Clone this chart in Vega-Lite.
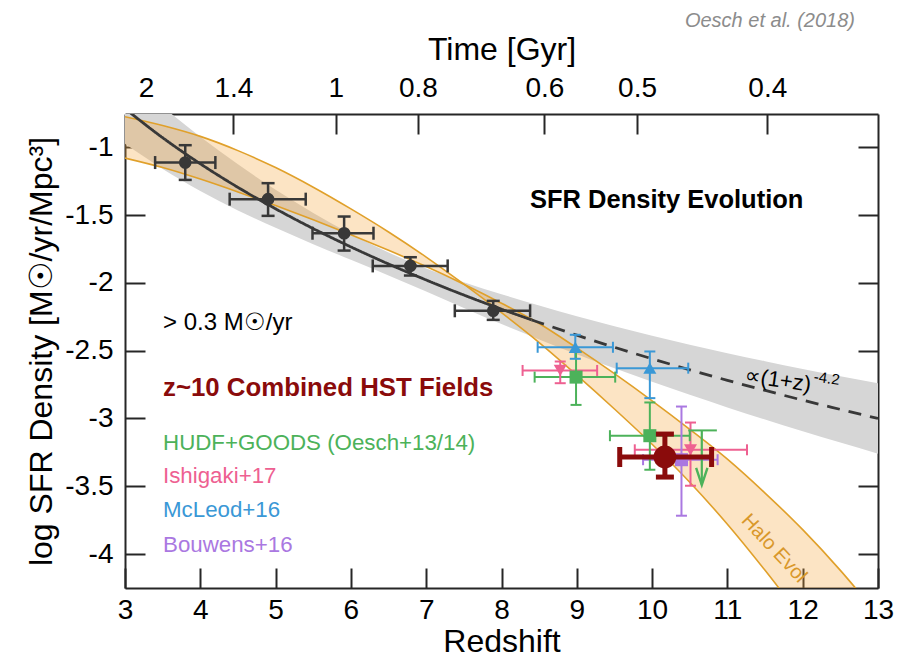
{
  "$schema": "https://vega.github.io/schema/vega-lite/v6.json",
  "width": 753,
  "height": 474,
  "autosize": {"type": "none"},
  "padding": {"left": 125, "top": 114, "right": 29, "bottom": 71},
  "background": "white",
  "title": {"text": "Oesch et al. (2018)", "anchor": "end", "frame": "group", "font": "Liberation Sans", "fontSize": 20, "fontStyle": "italic", "fontWeight": "normal", "color": "#8c8c8c", "dx": -23, "offset": 2},
  "config": {
    "font": "Liberation Sans",
    "view": {"stroke": null},
    "axis": {"domainColor": "#262626", "domainWidth": 2, "tickColor": "#262626", "tickWidth": 2, "tickSize": -20, "ticks": true, "zindex": 1, "labelFont": "Liberation Sans", "labelFontSize": 28, "labelColor": "#000000", "titleFont": "Liberation Sans", "titleFontSize": 32, "titleFontWeight": "normal", "titleColor": "#000000", "grid": false, "labelFlush": false, "labelOverlap": false}
  },
  "datasets": {
    "curves": [
      {"z": 3, "gLo": -0.975, "gHi": -0.455, "A": -0.775, "B": -1.08},
      {"z": 3.5, "gLo": -1.16, "gHi": -0.7, "A": -0.84, "B": -1.15},
      {"z": 4, "gLo": -1.322, "gHi": -0.922, "A": -0.92, "B": -1.235},
      {"z": 4.5, "gLo": -1.466, "gHi": -1.126, "A": -1.025, "B": -1.33},
      {"z": 5, "gLo": -1.594, "gHi": -1.314, "A": -1.15, "B": -1.43},
      {"z": 5.5, "gLo": -1.715, "gHi": -1.485, "A": -1.295, "B": -1.535},
      {"z": 6, "gLo": -1.83, "gHi": -1.64, "A": -1.455, "B": -1.645},
      {"z": 6.5, "gLo": -1.946, "gHi": -1.776, "A": -1.625, "B": -1.76},
      {"z": 7, "gLo": -2.064, "gHi": -1.894, "A": -1.81, "B": -1.88},
      {"z": 7.5, "gLo": -2.185, "gHi": -1.995, "A": -2.01, "B": -2.01},
      {"z": 8, "gLo": -2.304, "gHi": -2.084, "A": -2.22, "B": -2.15},
      {"z": 8.5, "gLo": -2.417, "gHi": -2.167, "A": -2.44, "B": -2.3},
      {"z": 9, "gLo": -2.526, "gHi": -2.246, "A": -2.68, "B": -2.48},
      {"z": 9.5, "gLo": -2.63, "gHi": -2.32, "A": -2.93, "B": -2.67},
      {"z": 10, "gLo": -2.73, "gHi": -2.39, "A": -3.19, "B": -2.87},
      {"z": 10.5, "gLo": -2.826, "gHi": -2.456, "A": -3.47, "B": -3.08},
      {"z": 11, "gLo": -2.919, "gHi": -2.519, "A": -3.78, "B": -3.3},
      {"z": 11.5, "gLo": -3.008, "gHi": -2.578, "A": -4.12, "B": -3.55},
      {"z": 12, "gLo": -3.095, "gHi": -2.635, "A": -4.48, "B": -3.82},
      {"z": 12.5, "gLo": -3.178, "gHi": -2.688, "A": -4.85, "B": -4.12},
      {"z": 13, "gLo": -3.26, "gHi": -2.74, "A": -5.2, "B": -4.45}
    ],
    "fit": [
      {"z": 3, "v": -0.715, "seg": "solid"},
      {"z": 3.5, "v": -0.93, "seg": "solid"},
      {"z": 4, "v": -1.122, "seg": "solid"},
      {"z": 4.5, "v": -1.296, "seg": "solid"},
      {"z": 5, "v": -1.454, "seg": "solid"},
      {"z": 5.5, "v": -1.6, "seg": "solid"},
      {"z": 6, "v": -1.735, "seg": "solid"},
      {"z": 6.5, "v": -1.861, "seg": "solid"},
      {"z": 7, "v": -1.979, "seg": "solid"},
      {"z": 7.5, "v": -2.09, "seg": "solid"},
      {"z": 8, "v": -2.194, "seg": "solid"},
      {"z": 8.4, "v": -2.273, "seg": "solid"},
      {"z": 8.4, "v": -2.273, "seg": "dashed"},
      {"z": 8.5, "v": -2.292, "seg": "dashed"},
      {"z": 9, "v": -2.386, "seg": "dashed"},
      {"z": 9.5, "v": -2.475, "seg": "dashed"},
      {"z": 10, "v": -2.56, "seg": "dashed"},
      {"z": 10.5, "v": -2.641, "seg": "dashed"},
      {"z": 11, "v": -2.719, "seg": "dashed"},
      {"z": 11.5, "v": -2.793, "seg": "dashed"},
      {"z": 12, "v": -2.865, "seg": "dashed"},
      {"z": 12.5, "v": -2.933, "seg": "dashed"},
      {"z": 13, "v": -3.0, "seg": "dashed"}
    ],
    "black": [
      {"z": 3.8, "v": -1.113, "zlo": 3.4, "zhi": 4.2, "vlo": -1.241, "vhi": -0.985},
      {"z": 4.9, "v": -1.383, "zlo": 4.39, "zhi": 5.4, "vlo": -1.506, "vhi": -1.265},
      {"z": 5.91, "v": -1.634, "zlo": 5.49, "zhi": 6.3, "vlo": -1.762, "vhi": -1.511},
      {"z": 6.79, "v": -1.875, "zlo": 6.29, "zhi": 7.285, "vlo": -1.946, "vhi": -1.811},
      {"z": 7.89, "v": -2.206, "zlo": 7.38, "zhi": 8.38, "vlo": -2.273, "vhi": -2.133}
    ],
    "colored": [
      {"series": "McLeod+16", "z": 8.98, "v": -2.475, "zlo": 8.48, "zhi": 9.48, "vlo": -2.56, "vhi": -2.383},
      {"series": "McLeod+16", "z": 9.97, "v": -2.629, "zlo": 9.53, "zhi": 10.48, "vlo": -2.85, "vhi": -2.506},
      {"series": "Ishigaki+17", "z": 8.78, "v": -2.646, "zlo": 8.28, "zhi": 9.27, "vlo": -2.74, "vhi": -2.58},
      {"series": "Ishigaki+17", "z": 10.51, "v": -3.231, "zlo": 9.77, "zhi": 11.26, "vlo": -3.496, "vhi": -3.03},
      {"series": "HUDF+GOODS", "z": 8.99, "v": -2.695, "zlo": 8.44, "zhi": 9.51, "vlo": -2.9, "vhi": -2.51},
      {"series": "HUDF+GOODS", "z": 9.97, "v": -3.127, "zlo": 9.44, "zhi": 10.5, "vlo": -3.378, "vhi": -2.882},
      {"series": "Bouwens+16", "z": 10.39, "v": -3.304, "zlo": 9.88, "zhi": 10.87, "vlo": -3.717, "vhi": -2.912}
    ],
    "limit": [
      {"series": "HUDF+GOODS", "z": 10.66, "v": -3.088, "zlo": 10.48, "zhi": 10.86, "vtip": -3.49}
    ],
    "maroon": [
      {"z": 10.17, "v": -3.284, "zlo": 9.57, "zhi": 10.79, "vlo": -3.432, "vhi": -3.115}
    ]
  },
  "layer": [
    {
      "data": {"name": "curves"},
      "mark": {"type": "area", "color": "#d6d6d6", "opacity": 1, "clip": true, "interpolate": "monotone"},
      "encoding": {
        "x": {"field": "z", "type": "quantitative", "scale": {"domain": [3, 13], "nice": false, "zero": false},
              "axis": {"orient": "bottom", "title": "Redshift", "values": [3, 4, 5, 6, 7, 8, 9, 10, 11, 12, 13], "tickSize": -20, "labelPadding": 28, "titlePadding": 2}},
        "y": {"field": "gHi", "type": "quantitative", "scale": {"domain": [-4.25, -0.755], "nice": false, "zero": false},
              "axis": {"orient": "left", "title": "log SFR Density [M☉/yr/Mpc³]", "values": [-1, -1.5, -2, -2.5, -3, -3.5, -4], "tickSize": -20, "labelExpr": "datum.value + ''", "labelPadding": 32, "titlePadding": 6}},
        "y2": {"field": "gLo"}
      }
    },
    {
      "data": {"name": "curves"},
      "mark": {"type": "area", "color": "#f4a43c", "opacity": 0.3, "clip": true, "interpolate": "monotone"},
      "encoding": {
        "x": {"field": "z", "type": "quantitative", "scale": {"domain": [3, 13], "nice": false, "zero": false},
              "axis": {"orient": "top", "title": "Time [Gyr]", "values": [3.28, 4.44, 5.8, 6.89, 8.57, 9.8, 11.53], "tickSize": -20,
                       "labelExpr": "datum.value == 3.28 ? '2' : datum.value == 4.44 ? '1.4' : datum.value == 5.8 ? '1' : datum.value == 6.89 ? '0.8' : datum.value == 8.57 ? '0.6' : datum.value == 9.8 ? '0.5' : '0.4'",
                       "labelPadding": 32, "titlePadding": 8}},
        "y": {"field": "A", "type": "quantitative", "scale": {"domain": [-4.25, -0.755], "nice": false, "zero": false},
              "axis": {"orient": "right", "title": null, "labels": false, "tickSize": -20, "values": [-1, -1.5, -2, -2.5, -3, -3.5, -4]}},
        "y2": {"field": "B"}
      }
    },
    {
      "data": {"name": "curves"},
      "transform": [{"fold": ["A", "B"], "as": ["curve", "val"]}],
      "mark": {"type": "line", "color": "#e0a02a", "strokeWidth": 1.6, "clip": true, "interpolate": "monotone"},
      "encoding": {
        "x": {"field": "z", "type": "quantitative", "axis": null},
        "y": {"field": "val", "type": "quantitative", "axis": null},
        "detail": {"field": "curve"}
      }
    },
    {
      "data": {"name": "fit"},
      "mark": {"type": "line", "color": "#383838", "strokeWidth": 2.8, "clip": true, "interpolate": "monotone"},
      "encoding": {
        "x": {"field": "z", "type": "quantitative", "axis": null},
        "y": {"field": "v", "type": "quantitative", "axis": null},
        "strokeDash": {"field": "seg", "type": "nominal", "scale": {"domain": ["solid", "dashed"], "range": [[1, 0], [13, 9]]}, "legend": null}
      }
    },
    {
      "data": {"name": "black"},
      "mark": {"type": "rule", "color": "#383838", "strokeWidth": 2.5},
      "encoding": {
        "x": {"field": "zlo", "type": "quantitative", "axis": null},
        "x2": {"field": "zhi"},
        "y": {"field": "v", "type": "quantitative", "axis": null}
      }
    },
    {
      "data": {"name": "black"},
      "mark": {"type": "rule", "color": "#383838", "strokeWidth": 2.5},
      "encoding": {
        "x": {"field": "z", "type": "quantitative", "axis": null},
        "y": {"field": "vlo", "type": "quantitative", "axis": null},
        "y2": {"field": "vhi"}
      }
    },
    {
      "data": {"name": "black"},
      "transform": [{"fold": ["zlo", "zhi"], "as": ["k", "zc"]}],
      "mark": {"type": "tick", "orient": "vertical", "color": "#383838", "size": 13, "thickness": 2.5, "opacity": 1},
      "encoding": {
        "x": {"field": "zc", "type": "quantitative", "axis": null},
        "y": {"field": "v", "type": "quantitative", "axis": null}
      }
    },
    {
      "data": {"name": "black"},
      "transform": [{"fold": ["vlo", "vhi"], "as": ["k", "vc"]}],
      "mark": {"type": "tick", "orient": "horizontal", "color": "#383838", "size": 13, "thickness": 2.5, "opacity": 1},
      "encoding": {
        "x": {"field": "z", "type": "quantitative", "axis": null},
        "y": {"field": "vc", "type": "quantitative", "axis": null}
      }
    },
    {
      "data": {"name": "black"},
      "mark": {"type": "circle", "color": "#383838", "size": 160, "opacity": 1},
      "encoding": {
        "x": {"field": "z", "type": "quantitative", "axis": null},
        "y": {"field": "v", "type": "quantitative", "axis": null}
      }
    },
    {
      "data": {"name": "colored"},
      "mark": {"type": "rule", "strokeWidth": 2},
      "encoding": {
        "x": {"field": "zlo", "type": "quantitative", "axis": null},
        "x2": {"field": "zhi"},
        "y": {"field": "v", "type": "quantitative", "axis": null},
        "color": {"field": "series", "type": "nominal", "scale": {"domain": ["McLeod+16", "Ishigaki+17", "HUDF+GOODS", "Bouwens+16"], "range": ["#3a98d6", "#ee6091", "#4cb25a", "#aa78e1"]}, "legend": null}
      }
    },
    {
      "data": {"name": "colored"},
      "mark": {"type": "rule", "strokeWidth": 2},
      "encoding": {
        "x": {"field": "z", "type": "quantitative", "axis": null},
        "y": {"field": "vlo", "type": "quantitative", "axis": null},
        "y2": {"field": "vhi"},
        "color": {"field": "series", "type": "nominal", "legend": null}
      }
    },
    {
      "data": {"name": "colored"},
      "transform": [{"fold": ["zlo", "zhi"], "as": ["k", "zc"]}],
      "mark": {"type": "tick", "orient": "vertical", "size": 11, "thickness": 2, "opacity": 1},
      "encoding": {
        "x": {"field": "zc", "type": "quantitative", "axis": null},
        "y": {"field": "v", "type": "quantitative", "axis": null},
        "color": {"field": "series", "type": "nominal", "legend": null}
      }
    },
    {
      "data": {"name": "colored"},
      "transform": [{"fold": ["vlo", "vhi"], "as": ["k", "vc"]}],
      "mark": {"type": "tick", "orient": "horizontal", "size": 11, "thickness": 2, "opacity": 1},
      "encoding": {
        "x": {"field": "z", "type": "quantitative", "axis": null},
        "y": {"field": "vc", "type": "quantitative", "axis": null},
        "color": {"field": "series", "type": "nominal", "legend": null}
      }
    },
    {
      "data": {"name": "colored"},
      "mark": {"type": "point", "filled": true, "opacity": 1},
      "encoding": {
        "x": {"field": "z", "type": "quantitative", "axis": null},
        "y": {"field": "v", "type": "quantitative", "axis": null},
        "color": {"field": "series", "type": "nominal", "legend": null},
        "shape": {"field": "series", "type": "nominal", "scale": {"domain": ["McLeod+16", "Ishigaki+17", "HUDF+GOODS", "Bouwens+16"], "range": ["triangle-up", "triangle-down", "square", "square"]}, "legend": null},
        "size": {"field": "series", "type": "ordinal", "scale": {"domain": ["McLeod+16", "Ishigaki+17", "HUDF+GOODS", "Bouwens+16"], "range": [170, 170, 190, 70]}, "legend": null}
      }
    },
    {
      "data": {"name": "limit"},
      "mark": {"type": "rule", "color": "#4cb25a", "strokeWidth": 2},
      "encoding": {
        "x": {"field": "zlo", "type": "quantitative", "axis": null},
        "x2": {"field": "zhi"},
        "y": {"field": "v", "type": "quantitative", "axis": null}
      }
    },
    {
      "data": {"name": "limit"},
      "mark": {"type": "rule", "color": "#4cb25a", "strokeWidth": 2.2},
      "encoding": {
        "x": {"field": "z", "type": "quantitative", "axis": null},
        "y": {"field": "v", "type": "quantitative", "axis": null},
        "y2": {"field": "vtip"}
      }
    },
    {
      "data": {"name": "limit"},
      "mark": {"type": "point", "shape": "M-0.6,-1.8L0,0L0.6,-1.8", "filled": false, "color": "#4cb25a", "strokeWidth": 2.4, "size": 357, "opacity": 1},
      "encoding": {
        "x": {"field": "z", "type": "quantitative", "axis": null},
        "y": {"field": "vtip", "type": "quantitative", "axis": null}
      }
    },
    {
      "data": {"name": "maroon"},
      "mark": {"type": "rule", "color": "#8a0b0b", "strokeWidth": 5},
      "encoding": {
        "x": {"field": "zlo", "type": "quantitative", "axis": null},
        "x2": {"field": "zhi"},
        "y": {"field": "v", "type": "quantitative", "axis": null}
      }
    },
    {
      "data": {"name": "maroon"},
      "mark": {"type": "rule", "color": "#8a0b0b", "strokeWidth": 5},
      "encoding": {
        "x": {"field": "z", "type": "quantitative", "axis": null},
        "y": {"field": "vlo", "type": "quantitative", "axis": null},
        "y2": {"field": "vhi"}
      }
    },
    {
      "data": {"name": "maroon"},
      "transform": [{"fold": ["zlo", "zhi"], "as": ["k", "zc"]}],
      "mark": {"type": "tick", "orient": "vertical", "color": "#8a0b0b", "size": 20, "thickness": 5, "opacity": 1},
      "encoding": {
        "x": {"field": "zc", "type": "quantitative", "axis": null},
        "y": {"field": "v", "type": "quantitative", "axis": null}
      }
    },
    {
      "data": {"name": "maroon"},
      "transform": [{"fold": ["vlo", "vhi"], "as": ["k", "vc"]}],
      "mark": {"type": "tick", "orient": "horizontal", "color": "#8a0b0b", "size": 18, "thickness": 5, "opacity": 1},
      "encoding": {
        "x": {"field": "z", "type": "quantitative", "axis": null},
        "y": {"field": "vc", "type": "quantitative", "axis": null}
      }
    },
    {
      "data": {"name": "maroon"},
      "mark": {"type": "circle", "color": "#8a0b0b", "size": 520, "opacity": 1},
      "encoding": {
        "x": {"field": "z", "type": "quantitative", "axis": null},
        "y": {"field": "v", "type": "quantitative", "axis": null}
      }
    },
    {
      "data": {"values": [{"label": "SFR Density Evolution"}]},
      "mark": {"type": "text", "align": "left", "baseline": "middle", "font": "Liberation Sans", "fontSize": 25.5, "fontWeight": "bold", "color": "#000000"},
      "encoding": {
        "x": {"datum": 8.378, "type": "quantitative", "axis": null},
        "y": {"datum": -1.388, "type": "quantitative", "axis": null},
        "text": {"field": "label"}
      }
    },
    {
      "data": {"values": [{"label": "> 0.3 M☉/yr"}]},
      "mark": {"type": "text", "align": "left", "baseline": "middle", "font": "Liberation Sans", "fontSize": 24, "color": "#000000"},
      "encoding": {
        "x": {"datum": 3.505, "type": "quantitative", "axis": null},
        "y": {"datum": -2.297, "type": "quantitative", "axis": null},
        "text": {"field": "label"}
      }
    },
    {
      "data": {"values": [{"label": "z~10 Combined HST Fields"}]},
      "mark": {"type": "text", "align": "left", "baseline": "middle", "font": "Liberation Sans", "fontSize": 25.8, "fontWeight": "bold", "color": "#8a0b0b"},
      "encoding": {
        "x": {"datum": 3.505, "type": "quantitative", "axis": null},
        "y": {"datum": -2.776, "type": "quantitative", "axis": null},
        "text": {"field": "label"}
      }
    },
    {
      "data": {"values": [{"label": "HUDF+GOODS (Oesch+13/14)"}]},
      "mark": {"type": "text", "align": "left", "baseline": "middle", "font": "Liberation Sans", "fontSize": 22.3, "color": "#4cb25a"},
      "encoding": {
        "x": {"datum": 3.505, "type": "quantitative", "axis": null},
        "y": {"datum": -3.181, "type": "quantitative", "axis": null},
        "text": {"field": "label"}
      }
    },
    {
      "data": {"values": [{"label": "Ishigaki+17"}]},
      "mark": {"type": "text", "align": "left", "baseline": "middle", "font": "Liberation Sans", "fontSize": 22.3, "color": "#ee6091"},
      "encoding": {
        "x": {"datum": 3.505, "type": "quantitative", "axis": null},
        "y": {"datum": -3.427, "type": "quantitative", "axis": null},
        "text": {"field": "label"}
      }
    },
    {
      "data": {"values": [{"label": "McLeod+16"}]},
      "mark": {"type": "text", "align": "left", "baseline": "middle", "font": "Liberation Sans", "fontSize": 22.3, "color": "#3a98d6"},
      "encoding": {
        "x": {"datum": 3.505, "type": "quantitative", "axis": null},
        "y": {"datum": -3.678, "type": "quantitative", "axis": null},
        "text": {"field": "label"}
      }
    },
    {
      "data": {"values": [{"label": "Bouwens+16"}]},
      "mark": {"type": "text", "align": "left", "baseline": "middle", "font": "Liberation Sans", "fontSize": 22.3, "color": "#aa78e1"},
      "encoding": {
        "x": {"datum": 3.505, "type": "quantitative", "axis": null},
        "y": {"datum": -3.931, "type": "quantitative", "axis": null},
        "text": {"field": "label"}
      }
    },
    {
      "data": {"values": [{"label": "∝(1+z)"}]},
      "mark": {"type": "text", "align": "center", "baseline": "middle", "font": "Liberation Sans", "fontSize": 22, "angle": 8, "color": "#000000"},
      "encoding": {
        "x": {"datum": 11.67, "type": "quantitative", "axis": null},
        "y": {"datum": -2.717, "type": "quantitative", "axis": null},
        "text": {"field": "label"}
      }
    },
    {
      "data": {"values": [{"label": "-4.2"}]},
      "mark": {"type": "text", "align": "left", "baseline": "middle", "font": "Liberation Sans", "fontSize": 15, "angle": 8, "color": "#000000"},
      "encoding": {
        "x": {"datum": 12.15, "type": "quantitative", "axis": null},
        "y": {"datum": -2.69, "type": "quantitative", "axis": null},
        "text": {"field": "label"}
      }
    },
    {
      "data": {"values": [{"label": "Halo Evol"}]},
      "mark": {"type": "text", "align": "center", "baseline": "middle", "font": "Liberation Sans", "fontSize": 20, "angle": 47, "color": "#d9982b"},
      "encoding": {
        "x": {"datum": 11.62, "type": "quantitative", "axis": null},
        "y": {"datum": -3.958, "type": "quantitative", "axis": null},
        "text": {"field": "label"}
      }
    }
  ],
  "resolve": {"axis": {"x": "independent", "y": "independent"}}
}
